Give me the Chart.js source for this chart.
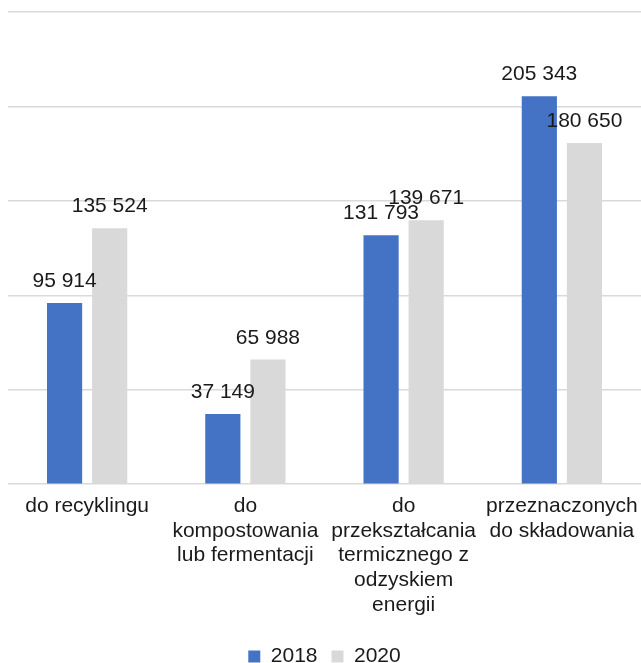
<!DOCTYPE html>
<html>
<head>
<meta charset="utf-8">
<script src="https://cdn.jsdelivr.net/npm/chart.js@4"></script>
<style>
    html, body { margin: 0; padding: 0; background: #fff; }
    #wrap { width: 641px; height: 663px; }
</style>
</head>
<body>
<div id="wrap"><canvas id="chartBar"></canvas></div>
<script>
// categories and values
const categories = [
    ['do recyklingu'],
    ['do', 'kompostowania', 'lub fermentacji'],
    ['do', 'przekształcania', 'termicznego z', 'odzyskiem', 'energii'],
    ['przeznaczonych', 'do składowania']
];
const values2018 = [95914, 37149, 131793, 205343];
const values2020 = [135524, 65988, 139671, 180650];
const yTicks = [0, 50000, 100000, 150000, 200000, 250000];

const fontFamily = '"Liberation Sans", Arial, sans-serif';

// format with space as thousands separator
function fmt(v) {
    return String(v).replace(/\B(?=(\d{3})+(?!\d))/g, ' ');
}

// draw value labels above every bar
const valueLabels = {
    id: 'valueLabels',
    afterDatasetsDraw(chart) {
        const ctx = chart.ctx;
        ctx.save();
        ctx.font = '21px ' + fontFamily;
        ctx.fillStyle = '#1a1a1a';
        ctx.textAlign = 'center';
        ctx.textBaseline = 'alphabetic';
        chart.data.datasets.forEach((ds, i) => {
            chart.getDatasetMeta(i).data.forEach((bar, j) => {
                ctx.fillText(fmt(ds.data[j]), bar.x, bar.y - 16);
            });
        });
        ctx.restore();
    }
};

const dataBar = {
    labels: categories,
    datasets: [{
        label: '2018',
        data: values2018,
        backgroundColor: '#4472c4',
        borderWidth: 0
    },
    {
        label: '2020',
        data: values2020,
        backgroundColor: '#d9d9d9',
        borderWidth: 0
    }]
};

const configBar = {
    type: 'bar',
    data: dataBar,
    options: {
        responsive: true,
        maintainAspectRatio: false,
        animation: false,
        datasets: {
            bar: { categoryPercentage: 0.57, barPercentage: 0.78 }
        },
        layout: { padding: { left: 8, top: 12, right: 0, bottom: -14 } },
        scales: {
            x: {
                grid: { display: false },
                border: { display: false },
                afterFit: axis => {
                    axis.paddingLeft = 0;
                    axis.paddingRight = 0;
                    axis.height += 13; // room between labels and legend
                },
                ticks: {
                    autoSkip: false,
                    maxRotation: 0,
                    minRotation: 0,
                    padding: 2,
                    color: '#1a1a1a',
                    font: { family: fontFamily, size: 21, lineHeight: 1.17 }
                }
            },
            y: {
                min: yTicks[0],
                max: yTicks[yTicks.length - 1],
                afterBuildTicks: axis => { axis.ticks = yTicks.map(v => ({ value: v })); },
                afterFit: axis => { axis.width = 0; },
                ticks: { display: false },
                border: { display: false },
                grid: { color: '#d9d9d9', lineWidth: 1.5, drawTicks: false }
            }
        },
        plugins: {
            tooltip: { enabled: false },
            legend: {
                position: 'bottom',
                labels: {
                    boxWidth: 12,
                    boxHeight: 12,
                    padding: 14,
                    color: '#1a1a1a',
                    font: { family: fontFamily, size: 21 }
                }
            }
        }
    },
    plugins: [valueLabels]
};

const chartBar = new Chart(document.getElementById('chartBar'), configBar);
</script>
</body>
</html>
